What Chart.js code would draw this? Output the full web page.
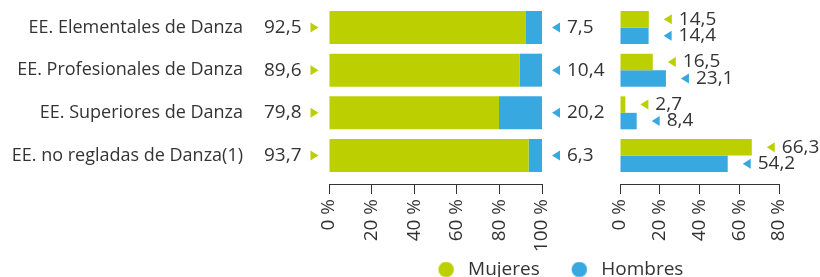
<!DOCTYPE html>
<html>
<head>
<meta charset="utf-8">
<script src="https://cdn.jsdelivr.net/npm/chart.js@4.4.1/dist/chart.umd.min.js"></script>
<style>
  html, body { margin: 0; padding: 0; background: #fff; overflow: hidden; }
  #wrap { position: relative; width: 820px; height: 277px; }
  #left { position: absolute; left: 0; top: 0; }
  #right { position: absolute; left: 321px; top: 0; }
</style>
</head>
<body>
<div id="wrap">
  <canvas id="left" width="620" height="277"></canvas>
  <canvas id="right" width="499" height="277"></canvas>
</div>
<script>
var categories = ['EE. Elementales de Danza', 'EE. Profesionales de Danza', 'EE. Superiores de Danza', 'EE. no regladas de Danza(1)'];
var seriesNames = ['Mujeres', 'Hombres'];
// reparto por sexo (%)
var mujeresPct = [92.5, 89.6, 79.8, 93.7];
var hombresPct = [7.5, 10.4, 20.2, 6.3];
// distribucion por ensenanza (%)
var mujeresDist = [14.5, 16.5, 2.7, 66.3];
var hombresDist = [14.4, 23.1, 8.4, 54.2];
var pctTicks = [0, 20, 40, 60, 80, 100];
var distTicks = [0, 20, 40, 60, 80];

var green = '#bccf00';
var blue = '#38a8e0';
var ink = '#333333';
var family = 'Open Sans';
var size = 19;
var weight = '400';

Chart.defaults.font.family = family;
Chart.defaults.font.size = size;
Chart.defaults.font.weight = weight;
Chart.defaults.color = ink;

function toPoints(values) {
  return values.map(function(v, i) { return {x: v, y: i}; });
}
function fmt(v) {
  return v.toFixed(1).replace('.', ',');
}

// etiquetas de valor con triangulito
var valueLabels = {
  id: 'valueLabels',
  afterDatasetsDraw: function(chart, args, opts) {
    var ctx = chart.ctx;
    ctx.save();
    ctx.font = weight + ' ' + size + 'px "' + family + '"';
    ctx.textBaseline = 'middle';
    chart.data.datasets.forEach(function(ds, di) {
      var side = opts.sides[di];
      chart.getDatasetMeta(di).data.forEach(function(bar, i) {
        var y = bar.y, tip;
        var txt = fmt(ds.data[i].x);
        ctx.fillStyle = ds.backgroundColor;
        ctx.beginPath();
        if (side === 'before') {
          tip = bar.base - 11;
          ctx.moveTo(tip, y); ctx.lineTo(tip - 8, y - 5); ctx.lineTo(tip - 8, y + 5);
          ctx.closePath(); ctx.fill();
          ctx.fillStyle = ink; ctx.textAlign = 'right';
          ctx.fillText(txt, tip - 17, y);
        } else {
          tip = bar.x + opts.gap;
          ctx.moveTo(tip, y); ctx.lineTo(tip + 8, y - 5); ctx.lineTo(tip + 8, y + 5);
          ctx.closePath(); ctx.fill();
          ctx.fillStyle = ink; ctx.textAlign = 'left';
          ctx.fillText(txt, tip + 15, y);
        }
      });
    });
    ctx.restore();
  }
};

// punto de leyenda con hueco a la izquierda
function legendDot(color) {
  var cv = document.createElement('canvas');
  cv.width = 42; cv.height = 16;
  var g = cv.getContext('2d');
  g.fillStyle = color;
  g.beginPath();
  g.arc(29.5, 8, 7.75, 0, Math.PI * 2);
  g.fill();
  return cv;
}
var dots = [legendDot(green), legendDot(blue)];

function indexScale(extra) {
  var s = {
    type: 'linear', reverse: true, offset: false, min: -0.504, max: 3.668,
    afterBuildTicks: function(sc) { sc.ticks = categories.map(function(c, i) { return {value: i}; }); },
    grid: {display: false, offset: false},
    border: {display: false}
  };
  return Object.assign(s, extra);
}

function valueScale(ticks, height, extra) {
  var s = {
    min: ticks[0], max: ticks[ticks.length - 1],
    afterBuildTicks: function(sc) { sc.ticks = ticks.map(function(v) { return {value: v}; }); },
    ticks: {minRotation: 90, maxRotation: 90, padding: 5, callback: function(v) { return v + ' %'; }},
    grid: {drawOnChartArea: false, tickLength: 10, color: ink},
    border: {color: ink},
    afterFit: function(sc) { sc.height = height; }
  };
  return Object.assign(s, extra);
}

function bars(label, values, color) {
  return {label: label, data: toPoints(values), backgroundColor: color,
          categoryPercentage: 0.773, barPercentage: 1};
}

var leftChart = new Chart(document.getElementById('left'), {
  type: 'bar',
  data: {datasets: [bars(seriesNames[0], mujeresPct, green), bars(seriesNames[1], hombresPct, blue)]},
  options: {
    responsive: false,
    animation: false,
    indexAxis: 'y',
    layout: {padding: {top: 6, right: 78, bottom: 0, left: 0}},
    plugins: {
      legend: {display: false},
      tooltip: {enabled: false},
      valueLabels: {sides: ['before', 'after'], gap: 10}
    },
    scales: {
      x: valueScale(pctTicks, 93, {stacked: true}),
      y: indexScale({
        stacked: true,
        // hueco para las cifras: marcas invisibles de 86 px
        grid: {display: true, offset: false, drawOnChartArea: false, tickLength: 86, color: 'rgba(0,0,0,0)'},
        ticks: {padding: 0, font: {size: 18, lineHeight: 0.6}, callback: function(v) { return categories[v]; }},
        afterFit: function(sc) { sc.width = 329; }
      })
    }
  },
  plugins: [valueLabels]
});

var rightChart = new Chart(document.getElementById('right'), {
  type: 'bar',
  data: {datasets: [bars(seriesNames[0], mujeresDist, green), bars(seriesNames[1], hombresDist, blue)]},
  options: {
    responsive: false,
    animation: false,
    indexAxis: 'y',
    layout: {padding: {top: 6, right: 41, bottom: -12, left: 0}},
    plugins: {
      legend: {
        position: 'bottom',
        labels: {
          usePointStyle: true, pointStyleWidth: 42, boxHeight: 16, padding: 10, color: ink,
          generateLabels: function(chart) {
            var items = Chart.defaults.plugins.legend.labels.generateLabels(chart);
            items.forEach(function(it, i) { it.pointStyle = dots[i]; });
            return items;
          }
        }
      },
      tooltip: {enabled: false},
      valueLabels: {sides: ['after', 'after'], gap: 15}
    },
    scales: {
      x: valueScale(distTicks, 66, {}),
      y: indexScale({
        ticks: {display: false},
        afterFit: function(sc) { sc.width = 299; }
      })
    }
  },
  plugins: [valueLabels]
});
</script>
</body>
</html>
